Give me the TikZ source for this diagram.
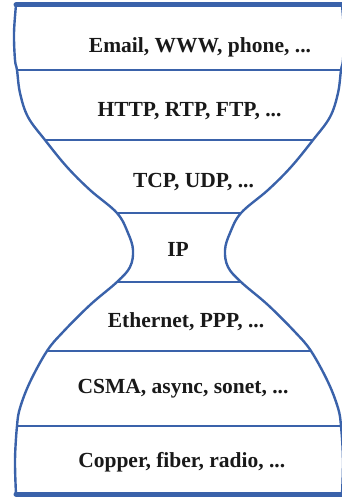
\documentclass[tikz,border=0pt]{standalone}
\usepackage{fontspec}
\setmainfont{Liberation Serif}
\definecolor{hgblue}{HTML}{3A62AA}
\begin{document}
\begin{tikzpicture}[x=1pt,y=-1pt,
  outline/.style={draw=hgblue,line width=2.4pt},
  thickline/.style={draw=hgblue,line width=5pt,line cap=round},
  sepline/.style={draw=hgblue,line width=2.2pt},
  label/.style={anchor=base,inner sep=0pt,font=\fontsize{21.5}{24}\selectfont\bfseries,text=black!90}]
\useasboundingbox (0,0) rectangle (342,497);
% outline
\draw[outline] plot[smooth,tension=0.6] coordinates {(16,5) (14,33) (15,60) (17,70) (20,93) (28,117) (45,140) (67,167) (90,190) (117,213) (128,233) (133,250) (130,267) (117,282) (90,305) (63,332) (47,351) (30,382) (20,408) (17,426) (15,460) (16,494)};
\draw[outline] plot[smooth,tension=0.6] coordinates {(342,5) (344,33) (343,60) (341,70) (338,93) (330,117) (313,140) (291,167) (268,190) (241,213) (230,233) (225,250) (228,267) (241,282) (268,305) (295,332) (311,351) (328,382) (338,408) (341,426) (343,460) (342,494)};
% coordinates for lines
\coordinate (t1) at (16,5);   \coordinate (t2) at (344,5);
\coordinate (a1) at (17,70);  \coordinate (a2) at (341,70);
\coordinate (b1) at (45,140); \coordinate (b2) at (313,140);
\coordinate (c1) at (117,213);\coordinate (c2) at (241,213);
\coordinate (d1) at (117,282);\coordinate (d2) at (241,282);
\coordinate (e1) at (47,351); \coordinate (e2) at (311,351);
\coordinate (f1) at (17,426); \coordinate (f2) at (341,426);
\coordinate (g1) at (16,494); \coordinate (g2) at (344,494);
\draw[thickline] (t1) -- (t2);
\draw[thickline] (g1) -- (g2);
\draw[sepline] (a1) -- (a2);
\draw[sepline] (b1) -- (b2);
\draw[sepline] (c1) -- (c2);
\draw[sepline] (d1) -- (d2);
\draw[sepline] (e1) -- (e2);
\draw[sepline] (f1) -- (f2);
% labels
\node[label] (l1) at (200,53) {Email, WWW, phone, ...};
\node[label] (l2) at (189.5,117) {HTTP, RTP, FTP, ...};
\node[label] (l3) at (193.5,187) {TCP, UDP, ...};
\node[label] (l4) at (178,256.5) {IP};
\node[label] (l5) at (186,327) {Ethernet, PPP, ...};
\node[label] (l6) at (183,393) {CSMA, async, sonet, ...};
\node[label] (l7) at (181.7,467) {Copper, fiber, radio, ...};
\end{tikzpicture}
\end{document}
